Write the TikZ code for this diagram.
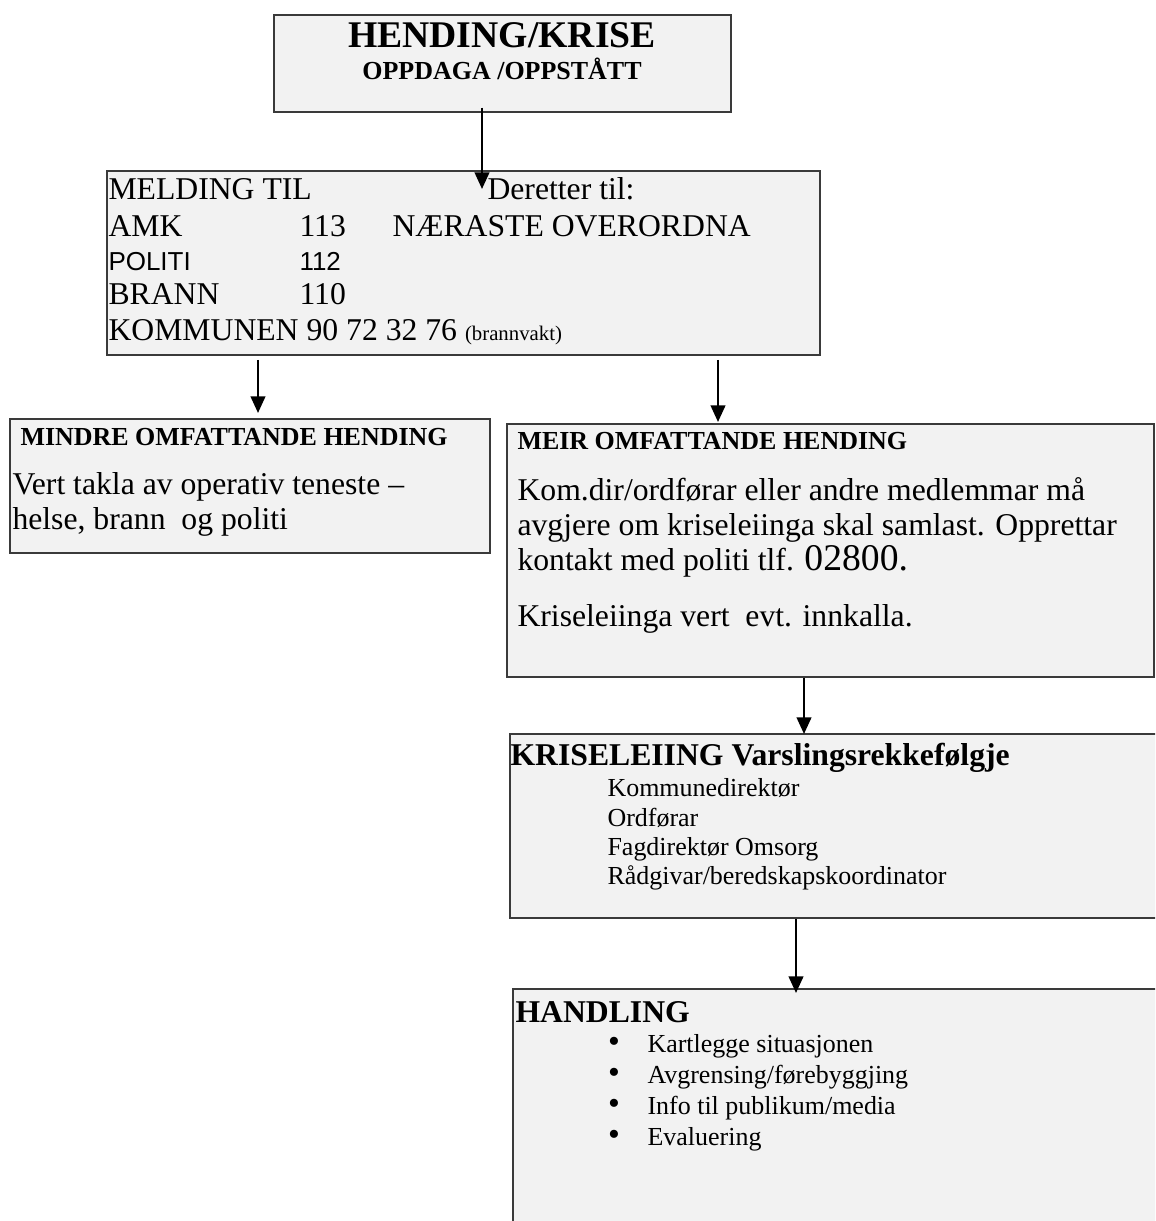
\documentclass[tikz,border=0pt]{standalone}
\usepackage{fontspec}
\setmainfont{Liberation Serif}
\newfontfamily\arialfont{Liberation Sans}
\usetikzlibrary{positioning,calc,arrows.meta,fit}
\definecolor{kpanel}{HTML}{F2F2F2}
\definecolor{kline}{HTML}{3A3A3A}
\tikzset{
  panel/.style={draw=kline,fill=kpanel,line width=0.7pt,inner sep=0pt},
  arr/.style={-{Triangle[length=6.4pt,width=5.6pt]},line width=0.9pt,black},
  body/.style={anchor=base west,inner sep=0pt,font=\fontsize{12.2}{14}\selectfont},
  small/.style={anchor=base west,inner sep=0pt,font=\fontsize{10}{12}\selectfont},
  head/.style={anchor=base west,inner sep=0pt,font=\fontsize{10}{12}\selectfont\bfseries},
  bighead/.style={anchor=base west,inner sep=0pt,font=\fontsize{12.2}{14}\selectfont\bfseries},
}

\begin{document}
\begin{tikzpicture}[x=0.385pt,y=-0.385pt]
  \path[use as bounding box] (0,0) rectangle (1155,1221);
  \clip (0,0) rectangle (1155,1221);
  \fill[white] (0,0) rectangle (1155,1221);
  % ---------- boxes ----------
  \node[panel,fit={(274,15) (731,112)}] (crisis) {};
  \node[panel,fit={(107,171) (820,355)}] (melding) {};
  \node[panel,fit={(10,419) (490,553)}] (mindre) {};
  \node[panel,fit={(507,424) (1154,677)}] (meir) {};
  \node[panel,fit={(510,734) (1175,918)}] (leiing) {};
  \node[panel,fit={(513,989) (1175,1240)}] (handling) {};
  % ---------- top ----------
  \node[anchor=base,inner sep=0pt,font=\fontsize{14.5}{16}\selectfont\bfseries] (title) at (502,48) {HENDING/KRISE};
  \node[anchor=base,inner sep=0pt,font=\fontsize{10}{12}\selectfont\bfseries] (subtitle) at (502,80) {OPPDAGA /OPPSTÅTT};
  % ---------- melding ----------
  \node[body] (mtil) at (108,200) {MELDING TIL};
  \node[body] (deretter) at (487,200) {Deretter til:};
  \node[body] (amk) at (108,237) {AMK};
  \node[body] (amknr) at (299,237) {113};
  \node[body] (naer) at (392,237) {NÆRASTE OVERORDNA};
  \node[small,font=\fontsize{10}{12}\arialfont] (politi) at (108,271) {POLITI};
  \node[small,font=\fontsize{10}{12}\arialfont] (politinr) at (299,271) {112};
  \node[body] (brann) at (108,305) {BRANN};
  \node[body] (brannnr) at (299,305) {110};
  \node[body] (kommune) at (108,340) {KOMMUNEN 90 72 32 76 {\fontsize{8}{9}\selectfont (brannvakt)}};
  % ---------- mindre omfattande ----------
  \node[head] (mindrehd) at (20,445) {MINDRE OMFATTANDE HENDING};
  \node[body] (mindre1) at (12,494) {Vert takla av operativ teneste --};
  \node[body] (mindre2) at (12,529) {helse, brann\ \ og politi};
  % ---------- meir omfattande ----------
  \node[head] (meirhd) at (517,449) {MEIR OMFATTANDE HENDING};
  \foreach \i/\yy/\txt in {1/500/{Kom.dir/ordførar eller andre medlemmar må},
                          2/535/{avgjere om kriseleiinga skal samlast. Opprettar},
                          3/570/{kontakt med politi tlf. {\fontsize{14.5}{16}\selectfont 02800.}},
                          4/626/{Kriseleiinga vert\ \ evt. innkalla.}}{
     \node[body] (meir\i) at (517,\yy) {\txt};}
  % ---------- kriseleiing ----------
  \node[bighead] (leiinghd) at (510,765) {KRISELEIING Varslingsrekkefølgje};
  \foreach \i/\yy/\txt in {1/796/Kommunedirektør,2/826/Ordførar,3/855/Fagdirektør Omsorg,
                          4/884/{Rådgivar/beredskapskoordinator}}{
     \node[small] (ledar\i) at (607,\yy) {\txt};}
  % ---------- handling ----------
  \node[bighead] (handlinghd) at (515,1022) {HANDLING};
  \foreach \i/\yy/\txt in {1/1052/Kartlegge situasjonen,2/1083/{Avgrensing/førebyggjing},
                          3/1114/{Info til publikum/media},4/1145/Evaluering}{
     \node[small,anchor=base,font=\fontsize{13}{13}\selectfont] (dot\i) at (614,\yy) {\textbullet};
     \node[small] (tiltak\i) at (647,\yy) {\txt};}
  % ---------- arrows ----------
  \coordinate (tipA) at (482,189);
  \coordinate (tipB) at (258,413);
  \coordinate (tipC) at (718,422);
  \coordinate (tipD) at (804,734);
  \coordinate (tipE) at (796,993);
  \draw[arr] ([yshift=2pt]crisis.south -| tipA) -- (tipA);
  \draw[arr] ([yshift=-1.5pt]melding.south -| tipB) -- (tipB);
  \draw[arr] ([yshift=-1.5pt]melding.south -| tipC) -- (tipC);
  \draw[arr] (meir.south -| tipD) -- (tipD);
  \draw[arr] (leiing.south -| tipE) -- (tipE);
\end{tikzpicture}
\end{document}
